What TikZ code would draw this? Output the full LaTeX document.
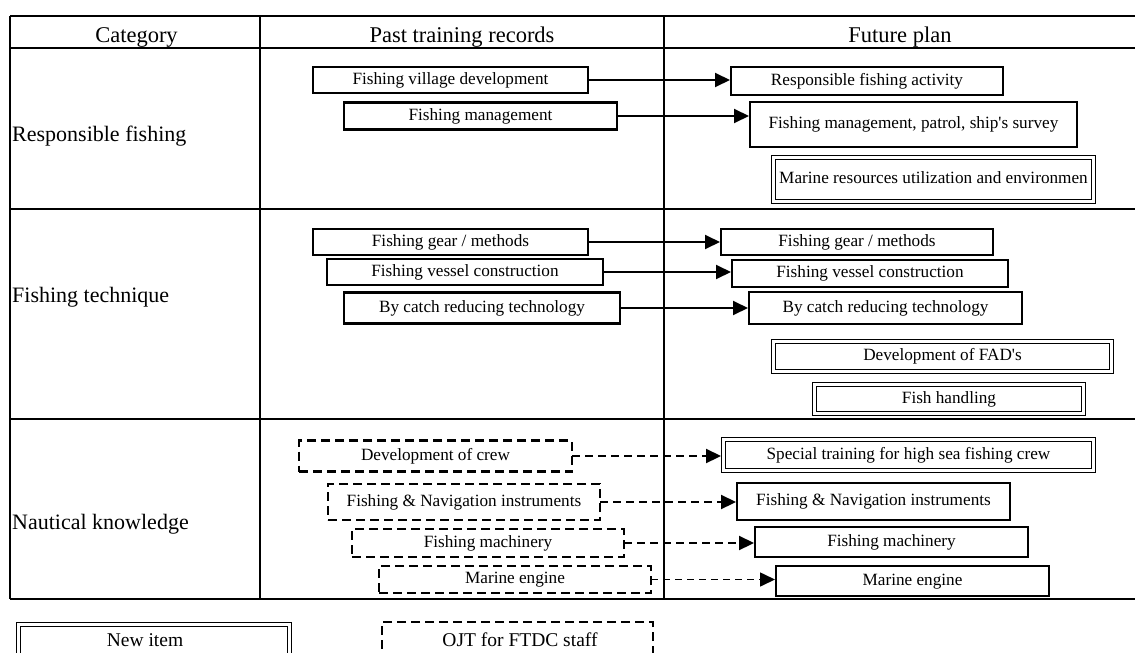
\documentclass[tikz,border=0pt]{standalone}
\usepackage{fontspec}
\setmainfont{Liberation Serif}
\usetikzlibrary{arrows.meta}
\begin{document}
\begin{tikzpicture}[x=1pt,y=-1pt,
  rule/.style={line width=1.8pt},
  itembox/.style={draw, line width=2.2pt, inner sep=0pt, outer sep=0pt,
    text height=12pt, text depth=3.6pt, font=\fontsize{17.2}{20}\selectfont},
  newbox/.style={itembox, double, double distance=2.4pt, line width=1.4pt},
  ojtbox/.style={itembox, dash pattern=on 9pt off 5pt, line width=2.4pt},
  flow/.style={line width=1.9pt, -{Triangle[length=15pt,width=14pt]}, shorten >=1pt},
  ojtflow/.style={flow, dash pattern=on 8pt off 5pt, line width=2.2pt},
  head/.style={font=\fontsize{22.5}{26}\selectfont, anchor=base, inner sep=0pt},
  cat/.style={font=\fontsize{22}{26}\selectfont, anchor=base west, inner sep=0pt},
  keytext/.style={font=\fontsize{19.5}{22}\selectfont, anchor=base, inner sep=0pt},
]
\clip (0,0) rectangle (1135,653);

% table grid (open on the right)
\draw[rule] (10,16) -- (1135,16);
\draw[rule] (10,48) -- (1135,48);
\draw[rule] (10,209) -- (1135,209);
\draw[rule] (10,419) -- (1135,419);
\draw[rule] (10,599) -- (1135,599);
\draw[line width=2.2pt] (10,16) -- (10,599);
\draw[rule] (260,16) -- (260,599);
\draw[rule] (664,16) -- (664,599);

% header and category labels
\node[head] (hcat) at (136.5,42.5) {Category};
\node[head] (hpast) at (462,42.5) {Past training records};
\node[head] (hfut) at (900,42.5) {Future plan};
\node[cat] (crf) at (12,141) {Responsible fishing};
\node[cat] (cft) at (12,302) {Fishing technique};
\node[cat] (cnk) at (12,529) {Nautical knowledge};

% responsible fishing
\node[itembox, minimum width=275pt, minimum height=26pt] (vil) at (450.5,80) {Fishing village development};
\node[itembox, minimum width=273pt, minimum height=27pt] (fmg) at (480.5,116) {Fishing management};
\node[itembox, minimum width=272pt, minimum height=28pt] (rfa) at (867,81) {Responsible fishing activity};
\node[itembox, minimum width=327pt, minimum height=45pt] (fmp) at (913.5,124.5) {Fishing management, patrol, ship\textquotesingle s survey};
\node[newbox, minimum width=320pt, minimum height=44pt] (mru) at (933.5,179.5) {Marine resources utilization and environmen};
\draw[flow] (vil.east) -- (vil.east -| rfa.west);
\draw[flow] (fmg.east) -- (fmg.east -| fmp.west);

% fishing technique
\node[itembox, minimum width=275pt, minimum height=26pt] (gl) at (450.5,242) {Fishing gear / methods};
\node[itembox, minimum width=276pt, minimum height=26pt] (vl) at (465,272) {Fishing vessel construction};
\node[itembox, minimum width=276pt, minimum height=31pt] (bl) at (482,308) {By catch reducing technology};
\node[itembox, minimum width=272pt, minimum height=26pt] (gr) at (857,242) {Fishing gear / methods};
\node[itembox, minimum width=276pt, minimum height=27pt] (vr) at (870,273.5) {Fishing vessel construction};
\node[itembox, minimum width=273pt, minimum height=32pt] (br) at (885.5,308) {By catch reducing technology};
\node[newbox, minimum width=338pt, minimum height=30pt] (fad) at (942.5,356.5) {Development of FAD\textquotesingle s};
\node[newbox, minimum width=269pt, minimum height=29pt] (fh) at (949,399) {Fish handling};
\draw[flow] (gl.east) -- (gl.east -| gr.west);
\draw[flow] (vl.east) -- (vl.east -| vr.west);
\draw[flow] (bl.east) -- (bl.east -| br.west);

% nautical knowledge
\node[ojtbox, minimum width=273pt, minimum height=31pt] (crl) at (435.5,456) {Development of crew};
\node[ojtbox, minimum width=272pt, minimum height=36pt] (nil) at (464,502) {Fishing \& Navigation instruments};
\node[ojtbox, minimum width=272pt, minimum height=28pt] (mcl) at (488,543) {Fishing machinery};
\node[ojtbox, minimum width=272pt, minimum height=27pt] (mel) at (515,579.5) {Marine engine};
\node[newbox, minimum width=370pt, minimum height=31pt] (spr) at (908.5,455) {Special training for high sea fishing crew};
\node[itembox, minimum width=273pt, minimum height=37pt] (nir) at (873.5,501.5) {Fishing \& Navigation instruments};
\node[itembox, minimum width=273pt, minimum height=30pt] (mcr) at (891.5,542) {Fishing machinery};
\node[itembox, minimum width=273pt, minimum height=30pt] (mer) at (912.5,581) {Marine engine};
\draw[ojtflow, shorten >=2.5pt] (crl.east) -- (crl.east -| spr.west);
\draw[ojtflow] (nil.east) -- (nil.east -| nir.west);
\draw[ojtflow] (mcl.east) -- (mcl.east -| mcr.west);
\draw[ojtflow, line width=1.6pt, dash pattern=on 7pt off 5pt] (mel.east) -- (mel.east -| mer.west);

% key
\node[newbox, minimum width=271pt, minimum height=56pt] (knew) at (154,652.5) {};
\node[ojtbox, minimum width=271pt, minimum height=56pt] (kojt) at (517.5,650) {};
\node[keytext] (tnew) at (145,646) {New item};
\node[keytext] (tojt) at (520,646) {OJT for FTDC staff};
\end{tikzpicture}
\end{document}
